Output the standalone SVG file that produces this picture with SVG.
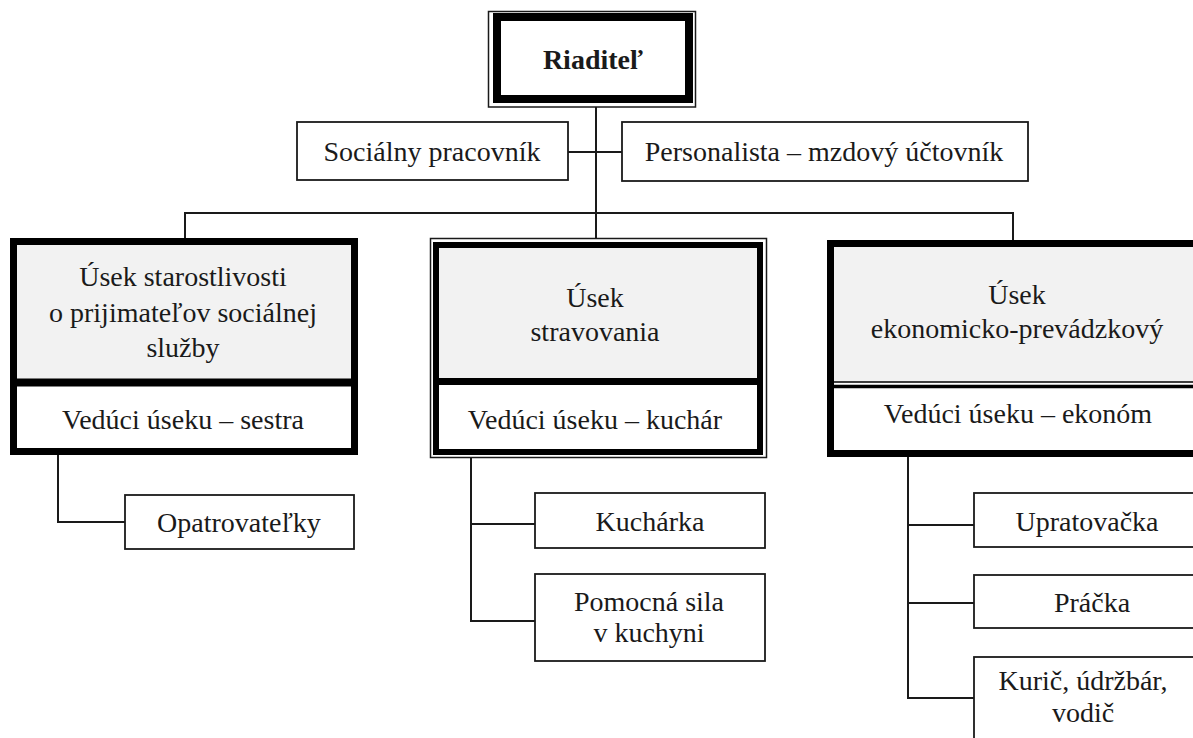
<svg xmlns="http://www.w3.org/2000/svg" width="1193" height="738" viewBox="0 0 1193 738">
<style>
  .t { font-family: "Liberation Serif", "Times New Roman", serif; font-size: 28px; fill: #1a1a1a; text-anchor: middle; }
  .b { font-weight: bold; }
  .thin { fill: #ffffff; stroke: #1a1a1a; stroke-width: 1.8; }
  .thick { stroke: #000000; stroke-width: 7; }
  .ln { fill: none; stroke: #1a1a1a; stroke-width: 2; }
</style>
<rect x="0" y="0" width="1193" height="738" fill="#ffffff"/>

<g id="connectors">
  <path class="ln" d="M596 103 V242"/>
  <path class="ln" d="M568 152 H622"/>
  <path class="ln" d="M185 238 V213 H1013 V240"/>
  <path class="ln" d="M58 455 V522 H125"/>
  <path class="ln" d="M471 455 V621 H535 M471 524 H535"/>
  <path class="ln" d="M908 457 V698 H974 M908 525 H974 M908 603 H974"/>
</g>

<g id="riaditel">
  <rect x="488.5" y="11.5" width="207" height="95.5" fill="#ffffff" stroke="#1a1a1a" stroke-width="1.5"/>
  <rect x="497" y="17" width="192" height="82" fill="#ffffff" stroke="#000000" stroke-width="8"/>
  <text class="t b" x="593" y="69">Riaditeľ</text>
</g>

<g id="socialny">
  <rect class="thin" x="297" y="122" width="271" height="58"/>
  <text class="t" x="432" y="161">Sociálny pracovník</text>
</g>

<g id="personalista">
  <rect class="thin" x="622" y="122" width="406" height="59"/>
  <text class="t" x="824" y="161">Personalista – mzdový účtovník</text>
</g>

<g id="usek-starostlivosti">
  <rect x="13.5" y="241.5" width="341" height="139" fill="#f2f2f2"/>
  <rect x="13.5" y="382" width="341" height="70" fill="#ffffff"/>
  <rect class="thick" x="13.5" y="241.5" width="341" height="210" fill="none"/>
  <path d="M13.5 382.5 H354.5" stroke="#000000" stroke-width="8"/>
  <text class="t" x="183" y="286">Úsek starostlivosti</text>
  <text class="t" x="183" y="322">o prijimateľov sociálnej</text>
  <text class="t" x="183" y="357">služby</text>
  <text class="t" x="183" y="429">Vedúci úseku – sestra</text>
</g>

<g id="usek-stravovania">
  <rect x="430.5" y="238.5" width="336" height="219" fill="#ffffff" stroke="#1a1a1a" stroke-width="1.5"/>
  <rect x="436" y="245" width="324" height="136" fill="#f2f2f2"/>
  <rect x="436" y="245" width="324" height="207" fill="none" stroke="#000000" stroke-width="6"/>
  <path d="M436 381.5 H760" stroke="#000000" stroke-width="7"/>
  <text class="t" x="595" y="307">Úsek</text>
  <text class="t" x="595" y="341">stravovania</text>
  <text class="t" x="595" y="429">Vedúci úseku – kuchár</text>
</g>

<g id="usek-ekonomicko">
  <rect x="830.5" y="243.5" width="400" height="138" fill="#f2f2f2"/>
  <rect x="830.5" y="386" width="400" height="67" fill="#ffffff"/>
  <rect class="thick" x="830.5" y="243.5" width="400" height="210" fill="none"/>
  <path d="M830.5 382 H1193" stroke="#000000" stroke-width="1.5"/>
  <path d="M830.5 386.5 H1193" stroke="#000000" stroke-width="3.5"/>
  <text class="t" x="1017" y="304">Úsek</text>
  <text class="t" x="1017" y="338">ekonomicko-prevádzkový</text>
  <text class="t" x="1018" y="423">Vedúci úseku – ekonóm</text>
</g>

<g id="opatrovatelky">
  <rect class="thin" x="125" y="495" width="229" height="54"/>
  <text class="t" x="239" y="532">Opatrovateľky</text>
</g>

<g id="kucharka">
  <rect class="thin" x="535" y="493" width="230" height="55"/>
  <text class="t" x="650" y="531">Kuchárka</text>
</g>

<g id="pomocna-sila">
  <rect class="thin" x="535" y="574" width="230" height="87"/>
  <text class="t" x="649" y="611">Pomocná sila</text>
  <text class="t" x="649" y="642">v kuchyni</text>
</g>

<g id="upratovacka">
  <rect class="thin" x="974" y="493" width="230" height="54"/>
  <text class="t" x="1087" y="531">Upratovačka</text>
</g>

<g id="pracka">
  <rect class="thin" x="974" y="575" width="230" height="53"/>
  <text class="t" x="1092" y="612">Práčka</text>
</g>

<g id="kuric">
  <rect class="thin" x="974" y="657" width="230" height="90"/>
  <text class="t" x="1083" y="690">Kurič, údržbár,</text>
  <text class="t" x="1083" y="722">vodič</text>
</g>
</svg>
